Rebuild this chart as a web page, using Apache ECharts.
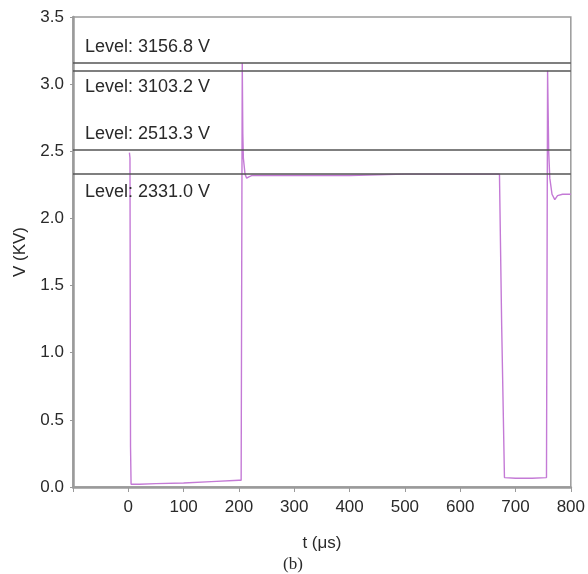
<!DOCTYPE html>
<html>
<head>
	<meta charset="utf-8">
	<title>Voltage waveform (b)</title>
	<script src="https://cdn.jsdelivr.net/npm/echarts@6/dist/echarts.min.js"></script>
	<style>
		body { margin: 0; background: #fff; }
	</style>
</head>
<body>
	<div id="main" style="width: 588px; height: 574px"></div>
	<script type="text/javascript">
		// waveform samples (t in µs, V in kV)
		var tValues = [2, 3, 4, 5, 20, 50, 100, 150, 200, 204, 206, 207, 208, 211, 214, 218, 224, 240, 300, 400, 500, 560, 620, 671, 675, 680, 700, 730, 756, 758, 759, 760, 762, 766, 771, 776, 785, 800];
		var vValues = [2.49, 2.45, 0.30, 0.02, 0.02, 0.025, 0.03, 0.04, 0.05, 0.05, 3.157, 2.63, 2.45, 2.33, 2.30, 2.31, 2.32, 2.32, 2.32, 2.32, 2.33, 2.33, 2.33, 2.33, 1.20, 0.07, 0.065, 0.065, 0.07, 3.10, 2.80, 2.50, 2.30, 2.18, 2.14, 2.17, 2.18, 2.18];
		// reference levels (kV) and their labels
		var levelValues = [3.1568, 3.1032, 2.5133, 2.331];
		var levelLabels = ['Level: 3156.8 V', 'Level: 3103.2 V', 'Level: 2513.3 V', 'Level: 2331.0 V'];
		var levelPlace = ['insideStartTop', 'insideStartBottom', 'insideStartTop', 'insideStartBottom'];
		var xTicks = [-100, 0, 100, 200, 300, 400, 500, 600, 700, 800];
		var yTicks = [0, 0.5, 1.0, 1.5, 2.0, 2.5, 3.0, 3.5];

		var myChart = echarts.init(document.getElementById('main'));

		var points = tValues.map(function (t, i) { return [t, vValues[i]]; });
		var marks = levelValues.map(function (v, i) {
			return {
				yAxis: v,
				label: {
					formatter: levelLabels[i],
					position: levelPlace[i],
					distance: [12, i === 3 ? 9 : 7]
				}
			};
		});

		var axisGray = '#9a9a9a';
		option = {
			animation: false,
			textStyle: { fontFamily: 'Liberation Sans' },
			grid: {
				left: 73, right: 16, top: 17, bottom: 87,
				show: true, borderColor: axisGray, borderWidth: 1.5
			},
			xAxis: {
				type: 'value',
				min: xTicks[0],
				max: xTicks[xTicks.length - 1],
				interval: 100,
				name: 't (μs)',
				nameLocation: 'middle',
				nameGap: 48,
				nameTextStyle: { fontSize: 17, color: '#2a2a2a' },
				axisLine: { onZero: false, lineStyle: { color: axisGray, width: 2.5 } },
				axisTick: { length: 5, lineStyle: { color: axisGray } },
				axisLabel: {
					fontSize: 17, color: '#2a2a2a', margin: 12,
					formatter: function (v) { return v < 0 ? '' : v; }
				},
				splitLine: { show: false }
			},
			yAxis: {
				type: 'value',
				min: yTicks[0],
				max: yTicks[yTicks.length - 1],
				interval: 0.5,
				name: 'V (KV)',
				nameLocation: 'middle',
				nameGap: 44,
				nameTextStyle: { fontSize: 17, color: '#2a2a2a' },
				axisLine: { onZero: false, lineStyle: { color: axisGray, width: 2.5 } },
				axisTick: { length: 3, lineStyle: { color: axisGray } },
				axisLabel: {
					fontSize: 17, color: '#2a2a2a', margin: 9,
					formatter: function (v) { return v.toFixed(1); }
				},
				splitLine: { show: false }
			},
			graphic: [{
				type: 'text',
				left: 283,
				top: 556,
				style: { text: '(b)', font: '17px "Liberation Serif"', fill: '#2a2a2a' }
			}],
			series: [{
				type: 'line',
				data: points,
				showSymbol: false,
				lineStyle: { color: '#c47ad6', width: 1.4 },
				markLine: {
					silent: true,
					symbol: ['none', 'none'],
					lineStyle: { color: '#555', width: 1.5, type: 'solid' },
					label: { fontSize: 18, color: '#2a2a2a' },
					data: marks
				}
			}]
		};
		myChart.setOption(option);
	</script>
</body>
</html>
